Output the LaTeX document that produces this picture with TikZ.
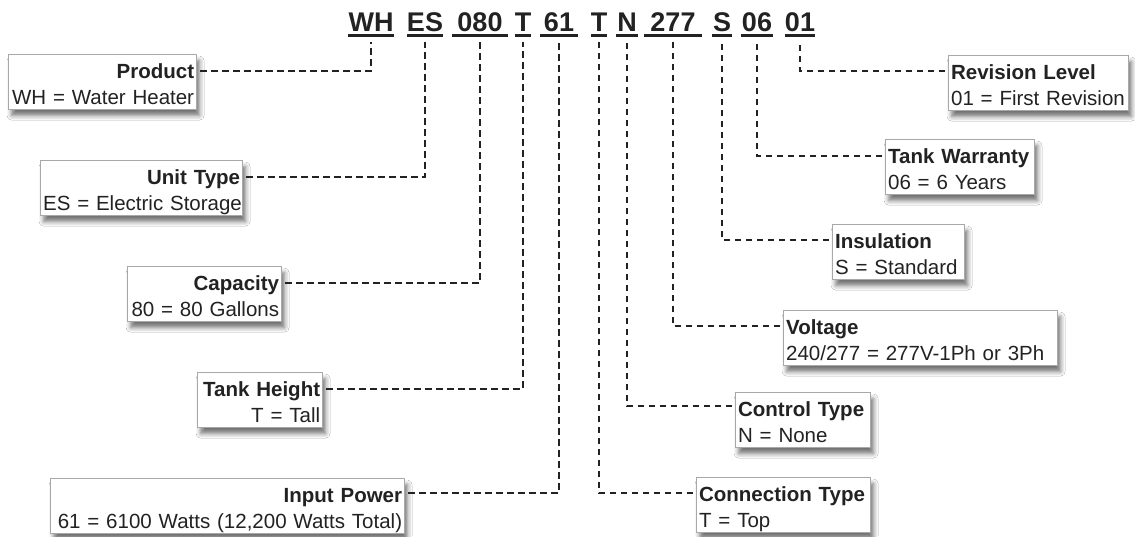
\documentclass[tikz,border=0pt]{standalone}
\usepackage{fontspec}
\setmainfont{Liberation Sans}
\usetikzlibrary{shadows.blur}
\definecolor{ink}{HTML}{222222}
\definecolor{edge}{HTML}{A8A8A8}
\tikzset{
  code/.style={font=\fontsize{27}{30}\selectfont\bfseries, text=ink, inner sep=0pt, anchor=base},
  uline/.style={draw=ink, line width=2.8pt},
  lbox/.style={draw=edge, line width=1.2pt, fill=white, inner xsep=2.5pt, inner ysep=0pt, text=ink,
    font=\fontsize{20.5}{25.5}\selectfont, anchor=north west, minimum height=55pt,
    text height=24pt, text depth=31pt,
    blur shadow={shadow xshift=3pt, shadow yshift=-6pt, shadow blur radius=4.5pt, shadow opacity=55}},
  leftbox/.style={lbox, align=right},
  rightbox/.style={lbox, align=left},
  conn/.style={draw=ink, line width=2.6pt, dash pattern=on 6.5pt off 4.5pt, shorten <=3pt},
}
\begin{document}
\begin{tikzpicture}[x=1pt, y=-1pt]
\fill[white] (0,0) rectangle (1135,536);
\useasboundingbox (0,0) rectangle (1135,536);

% code segments
\node[code, minimum width=46pt] (wh) at (371,31) {WH};
\node[code, minimum width=33pt] (es) at (425,31) {ES};
\node[code, minimum width=55pt] (cap) at (480,31) {080};
\node[code, minimum width=16pt] (th) at (523,31) {T};
\node[code, minimum width=38pt] (ip) at (559,31) {61};
\node[code, minimum width=16pt] (ct) at (599,31) {T};
\node[code, minimum width=22pt] (ctl) at (627,31) {N};
\node[code, minimum width=57pt] (vol) at (673,31) {277};
\node[code, minimum width=20pt] (ins) at (722,31) {S};
\node[code, minimum width=31pt] (war) at (757,31) {06};
\node[code, minimum width=29pt] (rev) at (800,31) {01};
\foreach \n in {wh,es,cap,th,ip,ct,ctl,vol,ins,war,rev}
  \draw[uline] ([yshift=-4.4pt]\n.base west) -- ([yshift=-4.4pt]\n.base east);

% left boxes
\node[leftbox, text width=183pt] (prodb) at (8,54) {\mbox{\textbf{Product}}\\\mbox{WH = Water Heater}};
\node[leftbox, text width=197pt] (unitb) at (40,160) {\mbox{\textbf{Unit Type}}\\\mbox{ES = Electric Storage}};
\node[leftbox, text width=149pt] (capb) at (127,266) {\mbox{\textbf{Capacity}}\\\mbox{80 = 80 Gallons}};
\node[leftbox, text width=120pt] (thb) at (197,372) {\mbox{\textbf{Tank Height}}\\\mbox{T = Tall}};
\node[leftbox, text width=349pt] (ipb) at (50,478) {\mbox{\textbf{Input Power}}\\\mbox{61 = 6100 Watts (12,200 Watts Total)}};

% right boxes
\node[rightbox, text width=175pt] (revb) at (948,55) {\mbox{\textbf{Revision Level}}\\\mbox{01 = First Revision}};
\node[rightbox, text width=144pt] (warb) at (885,139) {\mbox{\textbf{Tank Warranty}}\\\mbox{06 = 6 Years}};
\node[rightbox, text width=127pt] (insb) at (832,224) {\mbox{\textbf{Insulation}}\\\mbox{S = Standard}};
\node[rightbox, text width=269pt] (volb) at (783,310) {\mbox{\textbf{Voltage}}\\\mbox{240/277 = 277V-1Ph or 3Ph}};
\node[rightbox, text width=130pt] (ctlb) at (735,392) {\mbox{\textbf{Control Type}}\\\mbox{N = None}};
\node[rightbox, text width=169pt] (ctb) at (696,477) {\mbox{\textbf{Connection Type}}\\\mbox{T = Top}};

% connectors
\draw[conn] ([yshift=-17pt]prodb.north east) -| ([yshift=-11pt]wh.base);
\draw[conn] ([yshift=-17pt]unitb.north east) -| ([yshift=-11pt]es.base);
\draw[conn] ([yshift=-17pt]capb.north east) -| ([yshift=-11pt]cap.base);
\draw[conn] ([yshift=-17pt]thb.north east) -| ([yshift=-11pt]th.base);
\draw[conn] ([yshift=-15pt]ipb.north east) -| ([yshift=-11pt]ip.base);
\draw[conn] ([yshift=-16pt]revb.north west) -| ([yshift=-11pt]rev.base);
\draw[conn] ([yshift=-17pt]warb.north west) -| ([yshift=-11pt]war.base);
\draw[conn] ([yshift=-16pt]insb.north west) -| ([yshift=-11pt]ins.base);
\draw[conn] ([yshift=-16pt]volb.north west) -| ([yshift=-11pt]vol.base);
\draw[conn] ([yshift=-14pt]ctlb.north west) -| ([yshift=-11pt]ctl.base);
\draw[conn] ([yshift=-16pt]ctb.north west) -| ([yshift=-11pt]ct.base);
\end{tikzpicture}
\end{document}
